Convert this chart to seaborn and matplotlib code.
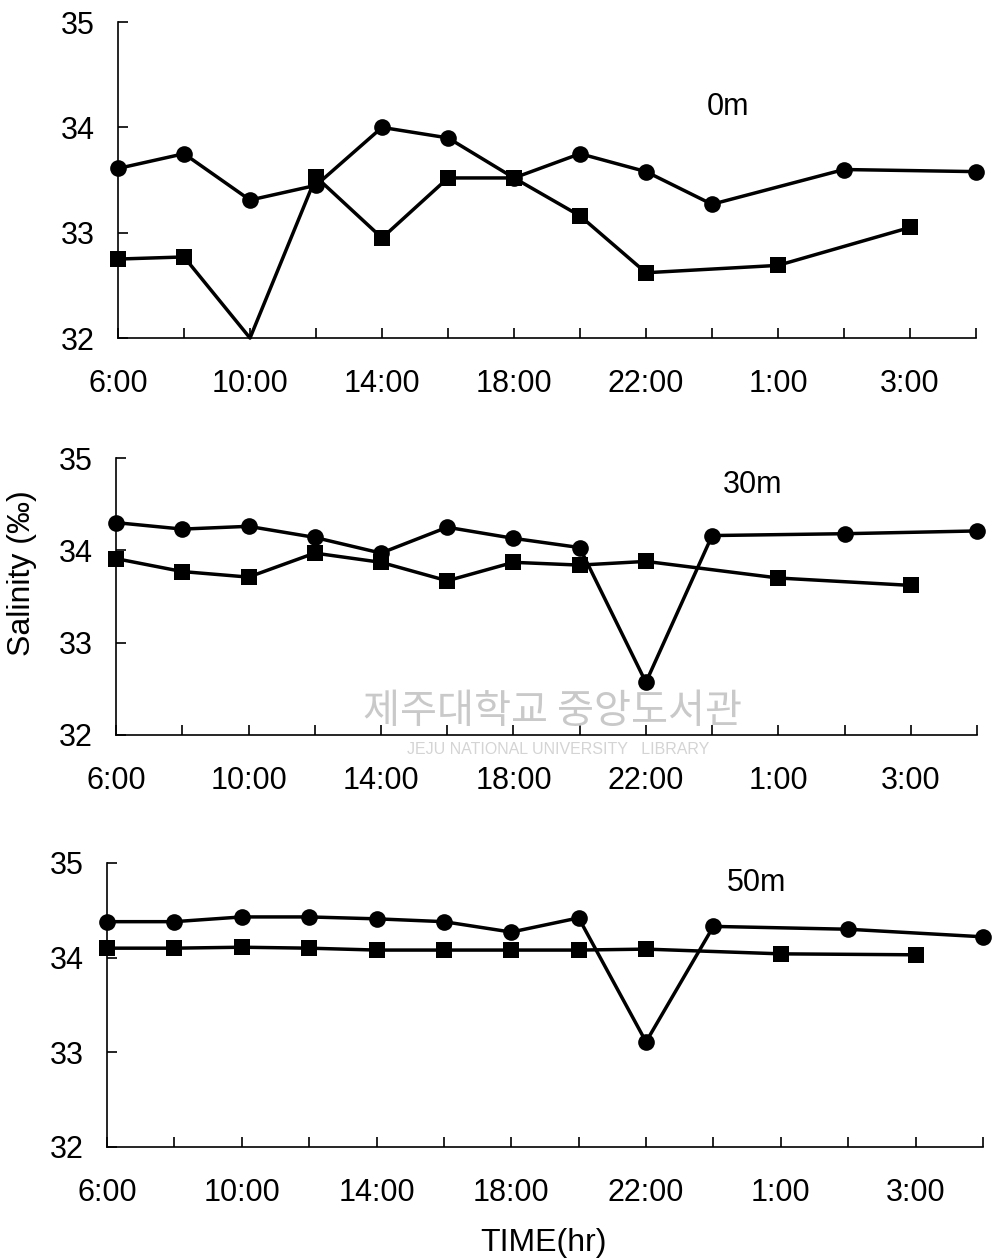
import numpy as np
import pandas as pd
import matplotlib
matplotlib.use("Agg")
import matplotlib.pyplot as plt
import seaborn as sns

# === data (None = no sample) ===
time_labels = ["6:00", "", "10:00", "", "14:00", "", "18:00", "", "22:00", "", "1:00", "", "3:00", ""]
depths = ["0m", "30m", "50m"]

circle_0m = [33.61, 33.75, 33.31, 33.45, 34.00, 33.90, 33.52, 33.75, 33.58, 33.27, None, 33.60, None, 33.58]
square_0m = [32.75, 32.77, 32.00, 33.53, 32.95, 33.52, 33.52, 33.16, 32.62, None, 32.69, None, 33.05, None]

circle_30m = [34.30, 34.23, 34.26, 34.14, 33.97, 34.25, 34.13, 34.03, 32.57, 34.16, None, 34.18, None, 34.21]
square_30m = [33.91, 33.77, 33.71, 33.97, 33.87, 33.67, 33.87, 33.84, 33.88, None, 33.70, None, 33.62, None]

circle_50m = [34.38, 34.38, 34.43, 34.43, 34.41, 34.38, 34.27, 34.42, 33.11, 34.33, None, 34.30, None, 34.22]
square_50m = [34.10, 34.10, 34.11, 34.10, 34.08, 34.08, 34.08, 34.08, 34.09, None, 34.04, None, 34.03, None]

sns.set_style("white")
plt.rcParams["font.family"] = ["Liberation Sans", "DejaVu Sans"]
plt.rcParams["text.color"] = "black"

fig = plt.figure(figsize=(9.96, 12.6), dpi=100)

# axes boxes (fig fraction)
boxes = [
    [0.1185, 0.7317, 0.8614, 0.2508],
    [0.1165, 0.4167, 0.8645, 0.2198],
    [0.1074, 0.0897, 0.8795, 0.2254],
]
label_pos = [(0.711, 0.731), (0.739, 0.903), (0.742, 0.93)]
series = [(circle_0m, square_0m), (circle_30m, square_30m), (circle_50m, square_50m)]

for k, (box, (circ, sq)) in enumerate(zip(boxes, series)):
    ax = fig.add_axes(box)
    d = pd.DataFrame({"idx": np.arange(len(time_labels)), "circle": circ, "square": sq})
    dc = d[["idx", "circle"]].dropna()
    ds = d[["idx", "square"]].dropna()

    sns.lineplot(data=dc, x="idx", y="circle", ax=ax, color="black", lw=2.5,
                 marker="o", markersize=12, markeredgewidth=0, clip_on=False)
    # the first-panel dip to 32 shows no marker in the original
    every = [i for i in range(len(ds)) if not (k == 0 and i == 2)]
    sns.lineplot(data=ds, x="idx", y="square", ax=ax, color="black", lw=2.5,
                 marker="s", markersize=11, markeredgewidth=0, clip_on=False,
                 markevery=every)

    ax.set_xlim(0, len(time_labels) - 1)
    ax.set_ylim(32, 35)
    ax.set_yticks([32, 33, 34, 35])
    ax.set_xticks(np.arange(len(time_labels)))
    ax.set_xticklabels(time_labels)
    ax.set_xlabel("")
    ax.set_ylabel("")
    sns.despine(ax=ax)
    for s in ["left", "bottom"]:
        ax.spines[s].set_color("black")
        ax.spines[s].set_linewidth(1.2)
    ax.tick_params(axis="x", bottom=True, direction="in", length=7, width=1.2, pad=22,
                   labelsize=22, colors="black")
    ax.tick_params(axis="y", left=True, direction="in", length=7, width=1.2, pad=17,
                   labelsize=22, colors="black")
    ax.text(label_pos[k][0], label_pos[k][1], depths[k], transform=ax.transAxes,
            ha="center", va="center", fontsize=22, color="black")

fig.text(0.022, 0.545, "Salinity (‰)", rotation=90, ha="center", va="center",
         fontsize=23, color="black")
fig.text(0.546, 0.0135, "TIME(hr)", ha="center", va="center", fontsize=23, color="black")

# faint library watermark
fig.text(0.555, 0.435, "제주대학교 중앙도서관", ha="center", va="center", fontsize=29,
         color="#c9c9c9", family=["Noto Sans CJK KR", "DejaVu Sans"], zorder=0)
fig.text(0.56, 0.405, "JEJU NATIONAL UNIVERSITY   LIBRARY", ha="center", va="center",
         fontsize=11.5, color="#d4d4d4", zorder=0)

fig.savefig("out.png", dpi=100)
